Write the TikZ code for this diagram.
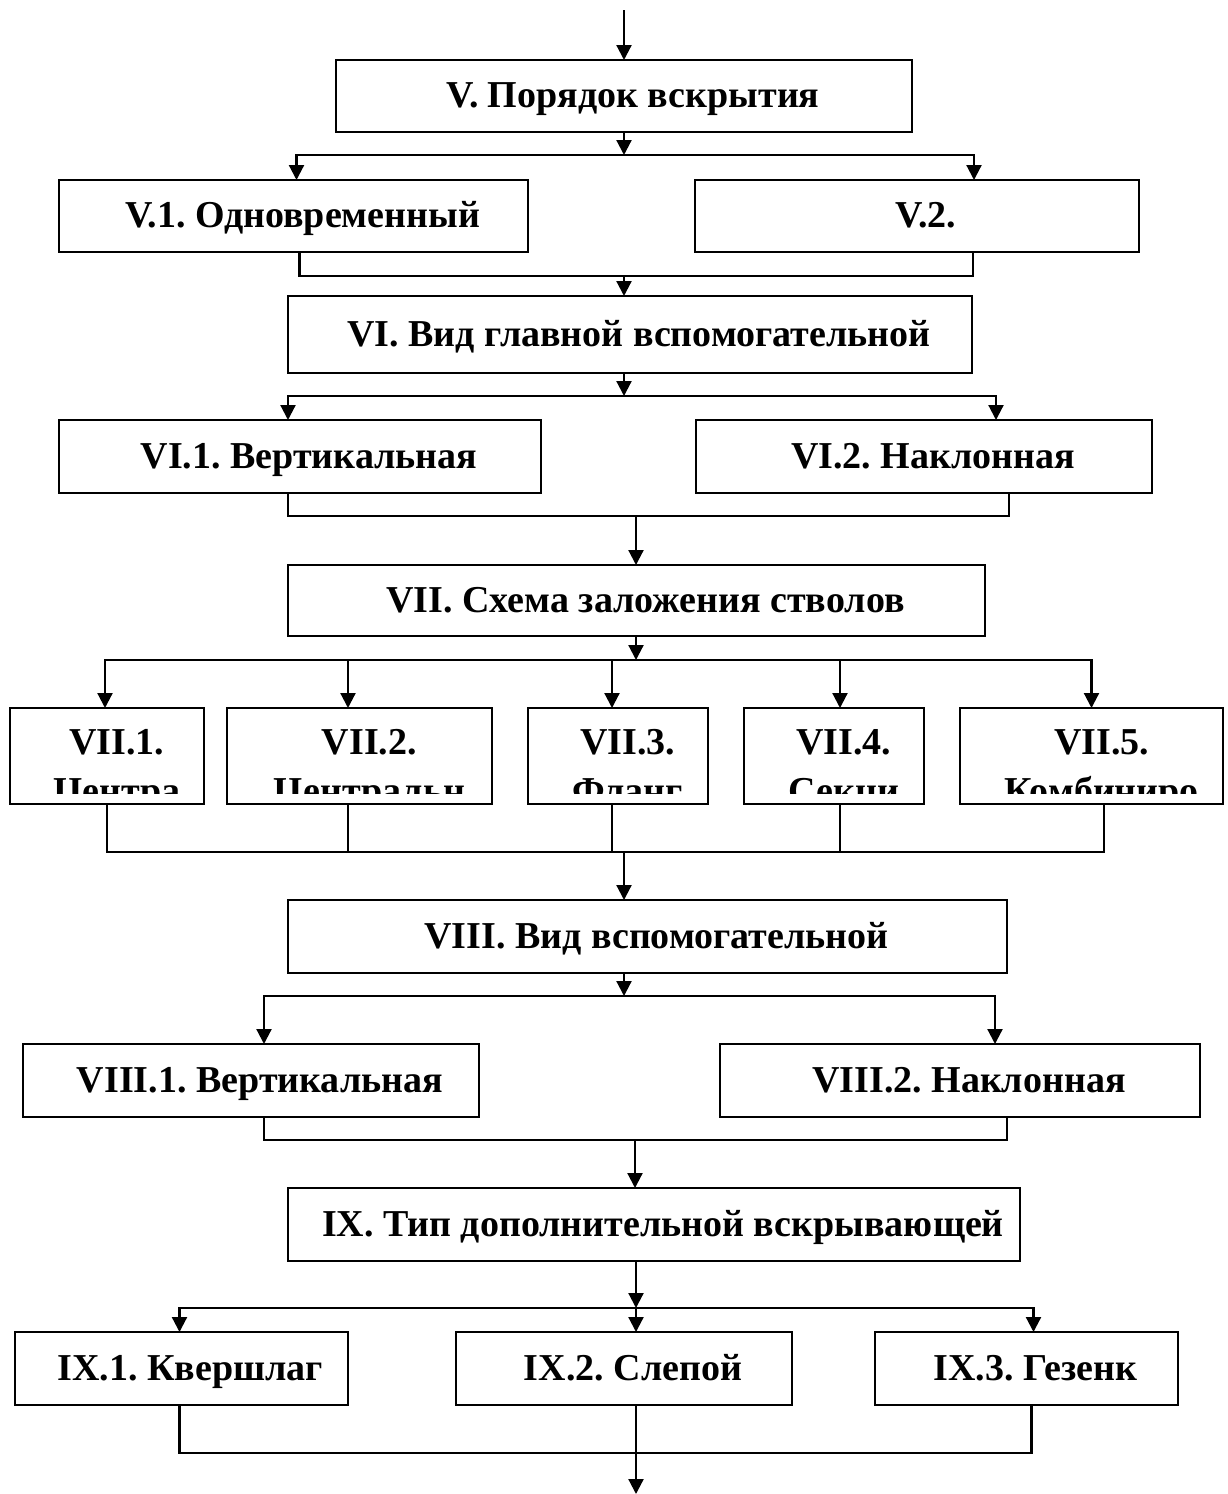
\documentclass[tikz,border=0pt]{standalone}
\usepackage{fontspec}
\setmainfont{Liberation Serif}
\usetikzlibrary{arrows.meta}
\frenchspacing
\newcommand\mybox[6]{\node[box, minimum width={#4-#2}, minimum height={#5-#3}] (#1) at ({(#2+#4)/2},{-(#3+#5)/2}) {\hspace*{18pt}#6};}
\begin{document}
\begin{tikzpicture}[x=1pt,y=1pt,
  box/.style={draw, line width=2.8pt, inner sep=0pt, outer sep=0pt,
    font=\fontsize{38}{46}\selectfont\bfseries, text height=25pt, text depth=2pt},
  txt/.style={inner sep=0pt, outer sep=0pt, anchor=base,
    font=\fontsize{38}{46}\selectfont\bfseries},
  ln/.style={line width=2.2pt},
  arr/.style={ln, -{Triangle[length=15pt,width=15pt]}}]
\useasboundingbox (0,0) rectangle (1227,-1494);

% ---- boxes ----
\mybox{V}{336}{60}{912}{132}{V. Порядок вскрытия}
\mybox{V1}{59}{180}{528}{252}{V.1. Одновременный}
\mybox{V2}{695}{180}{1139}{252}{V.2.}
\mybox{VI}{288}{296}{972}{373}{VI. Вид главной вспомогательной}
\mybox{VI1}{59}{420}{541}{493}{VI.1. Вертикальная}
\mybox{VI2}{696}{420}{1152}{493}{VI.2. Наклонная}
\mybox{VII}{288}{565}{985}{636}{VII. Схема заложения стволов}
\mybox{b71}{10}{708}{204}{804}{}
\mybox{b72}{227}{708}{492}{804}{}
\mybox{b73}{528}{708}{708}{804}{}
\mybox{b74}{744}{708}{924}{804}{}
\mybox{b75}{960}{708}{1223}{804}{}
\mybox{VIII}{288}{900}{1007}{973}{VIII. Вид вспомогательной}
\mybox{VIII1}{23}{1044}{479}{1117}{VIII.1. Вертикальная}
\mybox{VIII2}{720}{1044}{1200}{1117}{VIII.2. Наклонная}
\mybox{IX}{288}{1188}{1020}{1261}{IX. Тип дополнительной вскрывающей}
\mybox{IX1}{15}{1332}{348}{1405}{IX.1. Квершлаг}
\mybox{IX2}{456}{1332}{792}{1405}{IX.2. Слепой}
\mybox{IX3}{875}{1332}{1178}{1405}{IX.3. Гезенк}

% ---- two-line texts of the VII.x boxes (second line cut off by the box) ----
\node[txt] (t71) at ([xshift=10,yshift=2]b71.center) {VII.1.};
\node[txt] (t72) at ([xshift=10,yshift=2]b72.center) {VII.2.};
\node[txt] (t73) at ([xshift=10,yshift=2]b73.center) {VII.3.};
\node[txt] (t74) at ([xshift=10,yshift=2]b74.center) {VII.4.};
\node[txt] (t75) at ([xshift=10,yshift=2]b75.center) {VII.5.};
\begin{scope}
  \clip (0,-700) rectangle (1227,-793);
  \node[txt] (u71) at ([xshift=10,yshift=-47]b71.center) {Центра};
  \node[txt] (u72) at ([xshift=10,yshift=-47]b72.center) {Центральн};
  \node[txt] (u73) at ([xshift=10,yshift=-47]b73.center) {Фланг};
  \node[txt] (u74) at ([xshift=10,yshift=-47]b74.center) {Секци};
  \node[txt] (u75) at ([xshift=10,yshift=-47]b75.center) {Комбиниро};
\end{scope}

% ---- connectors ----
\coordinate (in) at (624,-10);
\coordinate (j1) at (624,-155);
\coordinate (m1) at (624,-276);
\draw[arr] (in) -- (V);
\draw[arr] (V) -- (j1);
\draw[arr] (j1) -| ([xshift=3]V1.north);
\draw[arr] (j1) -| ([xshift=57]V2.north);
\draw[ln] ([xshift=6]V1.south) |- (m1) -| ([xshift=56]V2.south);
\draw[arr] (m1) -- (m1 |- VI.north);

\coordinate (j2) at (624,-396);
\coordinate (m2) at (636,-516);
\draw[arr] (VI.south -| j2) -- (j2);
\draw[arr] (j2) -| ([xshift=-12]VI1.north);
\draw[arr] (j2) -| ([xshift=72]VI2.north);
\draw[ln] ([xshift=-12]VI1.south) |- (m2) -| ([xshift=85]VI2.south);
\draw[arr] (m2) -- (m2 |- VII.north);

\coordinate (j3) at (636,-660);
\coordinate (m3) at (624,-852);
\draw[arr] (VII.south -| j3) -- (j3);
\draw[arr] (j3) -| ([xshift=-2]b71.north);
\draw[arr] (j3) -| ([xshift=-11.5]b72.north);
\draw[arr] (j3) -| ([xshift=-6]b73.north);
\draw[arr] (j3) -| ([xshift=6]b74.north);
\draw[arr] (j3) -| (b75.north);
\draw[ln] (b71.south) |- (m3) -| ([xshift=12.5]b75.south);
\draw[ln] ([xshift=-11.5]b72.south) |- (m3);
\draw[ln] ([xshift=-6]b73.south) |- (m3);
\draw[ln] ([xshift=6]b74.south) |- (m3);
\draw[arr] (m3) -- (m3 |- VIII.north);

\coordinate (j4) at (624,-996);
\coordinate (m4) at (635,-1140);
\draw[arr] (VIII.south -| j4) -- (j4);
\draw[arr] (j4) -| ([xshift=13]VIII1.north);
\draw[arr] (j4) -| ([xshift=35]VIII2.north);
\draw[ln] ([xshift=13]VIII1.south) |- (m4) -| ([xshift=47]VIII2.south);
\draw[arr] (m4) -- (m4 |- IX.north);

\coordinate (j5) at (636,-1308);
\coordinate (m5) at (636,-1453);
\coordinate (out) at (636,-1494);
\draw[arr] (IX.south -| j5) -- (j5);
\draw[arr] (j5) -| ([xshift=-2]IX1.north);
\draw[arr] (j5) -- (j5 |- IX2.north);
\draw[arr] (j5) -| ([xshift=7]IX3.north);
\draw[ln] ([xshift=-2]IX1.south) |- (m5) -| ([xshift=5]IX3.south);
\draw[arr] (IX2.south -| out) -- (out);
\end{tikzpicture}
\end{document}
